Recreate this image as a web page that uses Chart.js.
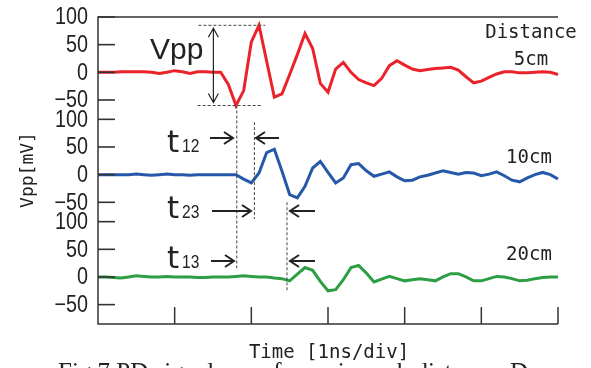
<!DOCTYPE html>
<html>
<head>
<meta charset="utf-8">
<script src="https://cdn.jsdelivr.net/npm/chart.js@4.4.1/dist/chart.umd.min.js"></script>
<style>
  html, body { margin: 0; padding: 0; background: #fff; }
</style>
</head>
<body>
<canvas id="waveChart" width="591" height="368"></canvas>
<script>
// waveforms, mV, one sample every 0.1 ns (6 divisions of 1 ns)
var red5cm = [0, 0, 0, 1, 1, 1, 1, 0, -2, 0, 3, 1, -2, 1, 1, 0,
  0, -22, -60, -33, 55, 85, 20, -45, -39, -4, 32, 70, 43, -20, -36, 6, 18, 0, -13, -19,
  -24, -11, 12, 21, 13, 6, 3, 5, 7, 8, 9, 4, -8, -19, -16, -9, -3, 1, 1, -1, -1, 0, 1, 0, -4];
var blue10cm = [0, 0, 0, 0, 0, 1, 0, -1, 0, 1, 0, 0, -1, 0, 0, 0, 0, 0,
  0, -8, -15, 3, 40, 46, 6, -36, -42, -21, 12, 24, 4, -15, -6, 18, 20, 7, -3, 1, 5, -4,
  -11, -10, -4, -1, 3, 7, 4, 1, 4, 3, -2, 1, 5, -2, -10, -13, -6, 0, 4, 0, -8];
var green20cm = [0, 0, -1, -2, 0, 2, 1, 0, 0, 1, 0, 0, 0, -1, -1, 0, 0, 0, 1, 2, 1, 0, 0, -2,
  -3, -7, 5, 17, 12, -8, -25, -23, -5, 17, 21, 7, -9, -4, 1, -3, -7, -5, -3, -5, -7, 0,
  6, 6, 0, -7, -7, -3, 1, 0, -3, -7, -6, -3, -1, 0, 0];

var yTicks = [-50, 0, 50, 100];
var xDivs = [0, 10, 20, 30, 40, 50, 60];   // sample index of each 1ns division
var distLabels = ['5cm', '10cm', '20cm'];

var samples = red5cm.map(function (_, i) { return i; });

var ctx = document.getElementById('waveChart').getContext('2d');

var monoFont = '"DejaVu Sans Mono", monospace';

// one panel of the stacked y axis (labels are drawn by the frame plugin)
function panelScale() {
    return {
        type: 'linear',
        position: 'left',
        stack: 'panels',
        stackWeight: 1,
        min: -85,
        max: 100,
        grid: { display: false },
        border: { display: false },
        afterBuildTicks: function (s) { s.ticks = yTicks.map(function (v) { return { value: v }; }); },
        afterFit: function (s) { s.width = 60; },
        ticks: { display: false }
    };
}

function arrow(c, x1, y, x2) {
    var d = x2 > x1 ? -1 : 1;
    c.beginPath();
    c.moveTo(x1, y); c.lineTo(x2, y);
    c.moveTo(x2 + d * 9, y - 6); c.lineTo(x2, y); c.lineTo(x2 + d * 9, y + 6);
    c.stroke();
}

function dashed(c, x1, y1, x2, y2) {
    c.save();
    c.setLineDash([3, 2]);
    c.lineWidth = 1;
    c.strokeStyle = '#444';
    c.beginPath(); c.moveTo(x1, y1); c.lineTo(x2, y2); c.stroke();
    c.restore();
}

// narrow tick numbers: squeeze a regular sans horizontally
function narrowText(c, txt, xRight, y) {
    c.save();
    c.translate(xRight, y);
    c.scale(0.86, 1);
    c.fillText(txt, 0, 0);
    c.restore();
}

var framePlugin = {
    id: 'frame',
    afterDraw: function (chart) {
        var c = chart.ctx, a = chart.chartArea, s = chart.scales;
        var px = function (i) { return s.x.getPixelForValue(i); };
        var panels = ['y5', 'y10', 'y20'];
        c.save();
        // axes box (no right side) and inward ticks
        c.strokeStyle = '#333';
        c.lineWidth = 1.5;
        c.beginPath();
        c.moveTo(a.right, a.top); c.lineTo(a.left, a.top); c.lineTo(a.left, a.bottom); c.lineTo(a.right, a.bottom);
        xDivs.forEach(function (i) { c.moveTo(px(i), a.bottom); c.lineTo(px(i), a.bottom - 17); });
        c.stroke();

        c.fillStyle = '#333';
        panels.forEach(function (id) {
            yTicks.forEach(function (v) {
                var y = s[id].getPixelForValue(v);
                c.fillRect(a.left, y - 0.8, 17, 1.6);
            });
        });

        c.fillStyle = '#222';
        c.font = '23px "Liberation Sans", Arial';
        c.textAlign = 'right';
        c.textBaseline = 'middle';
        panels.forEach(function (id) {
            yTicks.forEach(function (v) {
                narrowText(c, v < 0 ? '\u2212' + (-v) : String(v), a.left - 10, s[id].getPixelForValue(v) + 1);
            });
        });

        // Vpp marker on the 5cm trace
        var yTop = s.y5.getPixelForValue(85), yBot = s.y5.getPixelForValue(-60);
        dashed(c, px(13.1), yTop, px(21.8), yTop);
        dashed(c, px(13.0), yBot, px(21.5), yBot);
        c.strokeStyle = '#222';
        c.lineWidth = 1.2;
        var xv = px(15.05);
        c.beginPath();
        c.moveTo(xv, yTop + 3); c.lineTo(xv, yBot - 3);
        c.moveTo(xv - 5, yTop + 12); c.lineTo(xv, yTop + 3); c.lineTo(xv + 5, yTop + 12);
        c.moveTo(xv - 5, yBot - 12); c.lineTo(xv, yBot - 3); c.lineTo(xv + 5, yBot - 12);
        c.stroke();

        // arrival time markers
        dashed(c, px(18.1), yBot, px(18.1), s.y20.getPixelForValue(16));
        dashed(c, px(20.4), s.y10.getPixelForValue(95), px(20.4), s.y10.getPixelForValue(-80));
        dashed(c, px(24.65), s.y10.getPixelForValue(-50), px(24.65), s.y20.getPixelForValue(-27));

        c.lineWidth = 2;
        c.strokeStyle = '#222';
        arrow(c, 210, 138, 233);
        arrow(c, 279, 138, 256);
        arrow(c, 212, 211, 251);
        arrow(c, 315, 211, 290);
        arrow(c, 211, 261, 234);
        arrow(c, 315, 261, 290);

        c.textBaseline = 'alphabetic';
        c.textAlign = 'left';
        c.font = '30px "Liberation Sans", Arial';
        c.fillText('Vpp', 150, 59);
        [['12', 152], ['23', 218], ['13', 268]].forEach(function (t) {
            c.font = '31px "DejaVu Sans", sans-serif';
            c.fillText('t', 167, t[1]);
            c.font = '19px "Liberation Sans", Arial';
            c.save();
            c.translate(182, t[1]);
            c.scale(0.82, 1);
            c.fillText(t[0], 0, 0);
            c.restore();
        });

        // distance labels and axis titles
        c.font = '19px ' + monoFont;
        c.textAlign = 'center';
        c.textBaseline = 'middle';
        c.fillText('Distance', 531, 33);
        c.fillText(distLabels[0], 531, 60);
        c.fillText(distLabels[1], 529, 158);
        c.fillText(distLabels[2], 529, 255);
        c.fillText('Time [1ns/div]', 329, 353);
        c.save();
        c.translate(28, 170);
        c.rotate(-Math.PI / 2);
        c.font = '18px ' + monoFont;
        c.fillText('Vpp[mV]', 0, 0);
        c.restore();

        // figure caption, cut off by the bottom edge
        c.textAlign = 'left';
        c.textBaseline = 'alphabetic';
        c.font = '25px "Liberation Serif", "Times New Roman", serif';
        c.fillText('Fig.7 PD signal waveforms in each distance, D', 58, 380);
        c.restore();
    }
};

function trace(label, data, color, axis) {
    return {
        label: label,
        data: data,
        yAxisID: axis,
        borderColor: color,
        borderWidth: 3,
        pointRadius: 0,
        tension: 0,
        fill: false
    };
}

var waveChart = new Chart(ctx, {
    type: 'line',
    data: {
        labels: samples,
        datasets: [
            trace(distLabels[0], red5cm, 'rgb(236, 34, 42)', 'y5'),
            trace(distLabels[1], blue10cm, 'rgb(38, 88, 170)', 'y10'),
            trace(distLabels[2], green20cm, 'rgb(44, 158, 68)', 'y20')
        ]
    },
    options: {
        responsive: false,
        animation: false,
        layout: { padding: { left: 38, right: 33, top: 17, bottom: 44 } },
        plugins: { legend: { display: false }, tooltip: { enabled: false } },
        scales: {
            x: { type: 'category', display: false, offset: false },
            // stacked panels are laid out last-defined on top
            y20: panelScale(),
            y10: panelScale(),
            y5: panelScale()
        }
    },
    plugins: [framePlugin]
});
</script>
</body>
</html>
